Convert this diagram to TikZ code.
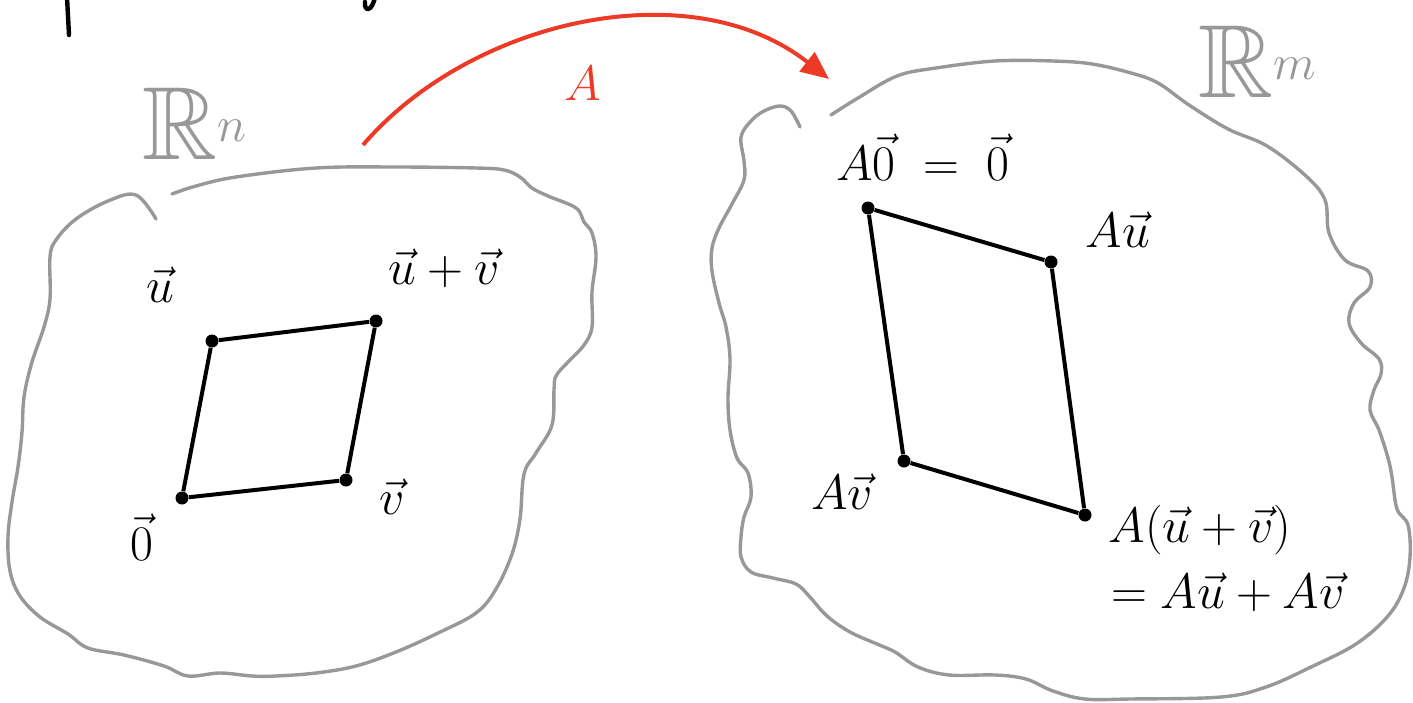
\documentclass[tikz,border=0pt]{standalone}
\usepackage{amssymb}
\usetikzlibrary{arrows.meta}
\definecolor{blobgray}{RGB}{152,152,152}
\definecolor{mapred}{RGB}{236,58,38}

\begin{document}
\begin{tikzpicture}[x=0.5pt, y=-0.5pt,
    blob/.style={draw=blobgray, line width=1.7pt, line cap=round, line join=round},
    dot/.style={circle, fill=black, minimum size=6.5pt, inner sep=0pt},
    edge/.style={black, line width=2pt},
    ink/.style={black, line width=2.2pt, line cap=round},
    lbl/.style={font=\fontsize{29}{35}\selectfont},
    spacelbl/.style={font=\fontsize{52}{60}\selectfont, text=blobgray, inner sep=0pt},
    maparrow/.style={draw=mapred, line width=2pt, -{Triangle[length=14pt, width=12pt]}},
    maplbl/.style={font=\fontsize{34}{40}\selectfont, text=mapred}
  ]
  \useasboundingbox (0,0) rectangle (1413,702);
  % cut-off strokes at the top edge
  \draw[ink] (67,-3) -- (69,35);
  \draw[ink] (375,-3) .. controls (372,12) and (364,12) .. (365,2);
  % domain R^n
  \draw[blob] plot[smooth, tension=0.6] coordinates {
    (156,219) (136,195) (108,201) (76,219) (56,240) (50,257) (50,299) (44,327)
    (32,362) (24,397) (22,432) (18,467) (12,502) (8,537) (10,571) (20,596)
    (40,617) (68,634) (88,648) (124,655) (164,666) (188,676) (220,673) (252,676)
    (276,676) (316,673) (356,666) (396,652) (436,634) (476,613) (496,589) (512,554)
    (520,519) (524,474) (536,453) (552,425) (554,390) (556,376) (568,362) (584,345)
    (592,327) (592,292) (596,257) (592,233) (584,222) (576,208) (548,196) (532,188)
    (520,177) (504,170) (476,168) (396,167) (316,168) (236,177) (196,186) (172,194)};
  % codomain R^m
  \draw[blob] plot[smooth, tension=0.6] coordinates {
    (800,127) (791,111) (780,106) (764,111) (751,121) (741,137) (744,161) (744,180)
    (732,204) (719,228) (712,248) (712,271) (719,303) (726,327) (730,359) (728,398)
    (730,430) (737,458) (748,473) (751,497) (744,517) (741,537) (741,557) (751,572)
    (773,578) (796,584) (809,596) (827,616) (850,632) (877,644) (895,652) (918,667)
    (949,675) (995,675) (1026,679) (1053,691) (1085,699) (1130,699) (1221,697) (1266,687)
    (1311,667) (1356,644) (1388,616) (1404,588) (1410,557) (1408,525) (1397,509) (1392,477)
    (1388,458) (1379,430) (1370,410) (1374,390) (1381,374) (1379,359) (1361,343) (1349,323)
    (1354,303) (1370,287) (1368,271) (1345,260) (1329,233) (1325,200) (1306,176) (1267,146)
    (1228,129) (1189,105) (1158,83) (1131,73) (1092,64) (1053,61) (995,61) (936,68)
    (897,76) (858,98) (831,115)};
  \node[spacelbl] (Rn) at (195,124) {$\mathbb{R}^n$};
  \node[spacelbl] (Rm) at (1258,62) {$\mathbb{R}^m$};
  % parallelogram and its image
  \foreach \n/\x/\y in {o/182/498, u/212/341, uv/376/321, v/346/480,
                        Ao/868/208, Au/1051/262, Auv/1085/515, Av/904/461}
    { \node[dot] (\n) at (\x,\y) {}; }
  \foreach \a/\b in {o/u, u/uv, uv/v, v/o, Ao/Au, Au/Auv, Auv/Av, Av/Ao}
    { \draw[edge] (\a) -- (\b); }
  \node[lbl] (lu) at (160,285) {$\vec{u}$};
  \node[lbl] (luv) at (444,268) {$\vec{u}+\vec{v}$};
  \node[lbl] (lv) at (392,497) {$\vec{v}$};
  \node[lbl] (lo) at (142,537) {$\vec{0}$};
  \node[lbl] (lAo) at (923,157) {$A\vec{0}\;=\;\vec{0}$};
  \node[lbl] (lAu) at (1118,230) {$A\vec{u}$};
  \node[lbl] (lAv) at (842,492) {$A\vec{v}$};
  \node[lbl] (lAuv) at (1200,530) {$A(\vec{u}+\vec{v})$};
  \node[lbl] (lsum) at (1228,592) {$=A\vec{u}+A\vec{v}$};
  % the map A
  \coordinate (mapS) at (363,145);
  \coordinate (mapE) at (829,79);
  \draw[maparrow] (mapS) .. controls (470,20) and (690,-30) .. (mapE);
  \node[maplbl] (lA) at (583,83) {$A$};
\end{tikzpicture}
\end{document}
